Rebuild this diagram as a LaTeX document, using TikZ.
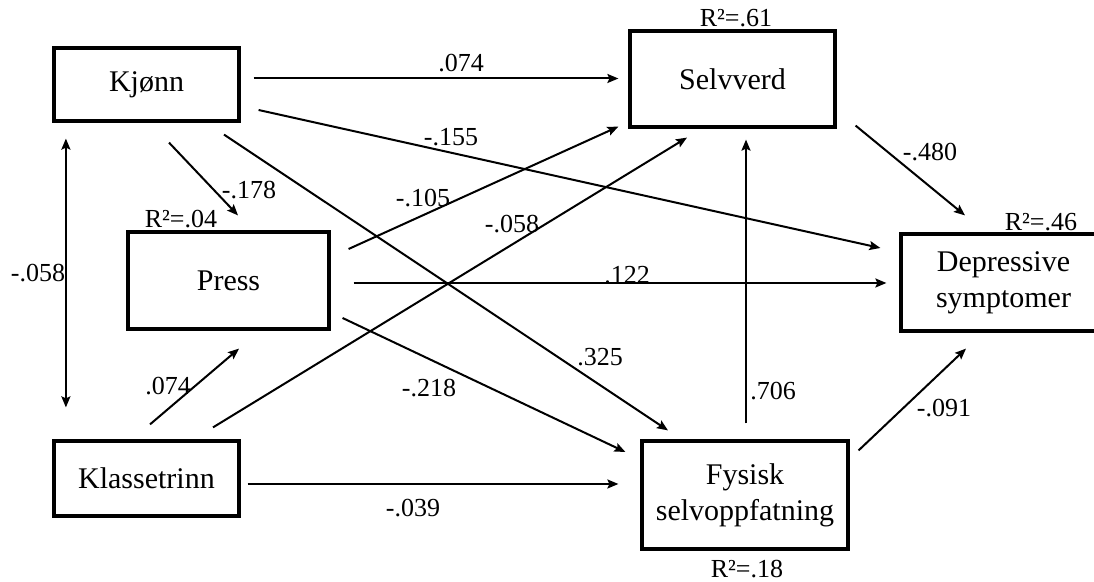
\documentclass[tikz,border=0pt]{standalone}
\usepackage{fontspec}
\setmainfont{Liberation Serif}
\usetikzlibrary{calc,arrows.meta}
\tikzset{
	var/.style={draw, line width=1.6pt, align=center, inner sep=0pt,
		font=\fontsize{15}{18}\selectfont},
	coef/.style={inner sep=0pt, font=\fontsize{13}{15}\selectfont},
	effect/.style={line width=1pt, -{Stealth[length=5.5pt,width=4.5pt,inset=1pt]}},
	corr/.style={line width=1pt, {Stealth[length=5.5pt,width=4.5pt,inset=1pt]}-{Stealth[length=5.5pt,width=4.5pt,inset=1pt]}}
}

\begin{document}
\begin{tikzpicture}[x=0.5pt,y=-0.5pt]
		%%%%% START %%%%%
		\clip (0,0) rectangle (1094,582);
		
		\node[var, minimum width=92.5pt, minimum height=36.5pt] (kjonn) at (146.5,84.5) {Kjønn};
		\node[var, minimum width=100.5pt, minimum height=48.5pt] (press) at (228.5,280.5) {Press};
		\node[var, minimum width=92.5pt, minimum height=37.5pt] (klasse) at (146.5,478.5) {Klassetrinn};
		\node[var, minimum width=102.5pt, minimum height=48pt] (selvverd) at (732.5,79) {Selvverd};
		\node[var, minimum width=102.5pt, minimum height=48.5pt] (depr) at (1003.5,282.5) {Depressive\\symptomer};
		\node[var, minimum width=103pt, minimum height=54pt] (fysisk) at (745,495) {Fysisk\\selvoppfatning};
		
		\node[coef] (r2press) at (181,219) {R²=.04};
		\node[coef] (r2selvverd) at (736,18) {R²=.61};
		\node[coef] (r2depr) at (1041,222) {R²=.46};
		\node[coef] (r2fysisk) at (747,569) {R²=.18};
		
		% from Kjonn
		\draw[effect] ($(kjonn.east)+(13,-6)$) -- ($(selvverd.west)+(-10,-0.5)$);
		\draw[effect] ($(kjonn.east)+(18,25.5)$) -- ($(depr.west)+(-19,-34.5)$);
		\draw[effect] ($(kjonn.south)+(22.5,20)$) -- ($(press.north)+(9.5,-15)$);
		\draw[effect] ($(kjonn.south)+(77.5,12)$) -- ($(fysisk.north)+(-77,-9)$);
		
		% from Press
		\draw[effect] ($(press.east)+(18,-31.5)$) -- ($(selvverd.south west)+(-10,-2)$);
		\draw[effect] ($(press.east)+(23,2.5)$) -- ($(depr.west)+(-13,0.5)$);
		\draw[effect] ($(press.east)+(12,37.5)$) -- ($(fysisk.west)+(-15,-43)$);
		
		% from Klassetrinn
		\draw[effect] ($(klasse.north)+(66.5,-12)$) -- ($(selvverd.south)+(-45.5,9)$);
		\draw[effect] ($(klasse.north)+(3.5,-15)$) -- ($(press.south)+(10.5,18)$);
		\draw[effect] ($(klasse.east)+(7,5.5)$) -- ($(fysisk.west)+(-22,-11)$);
		\draw[corr] ($(kjonn.south west)+(13.5,16)$) -- ($(klasse.north west)+(13.5,-32)$);
		
		% mediators
		\draw[effect] ($(fysisk.north)+(1,-16)$) -- ($(selvverd.south)+(13.5,11)$);
		\draw[effect] ($(selvverd.south east)+(19,-3)$) -- ($(depr.north)+(-38.5,-17)$);
		\draw[effect] ($(fysisk.north east)+(9,11)$) -- ($(depr.south)+(-37.5,16)$);
		
		\node[coef] (b1) at (461,63) {.074};
		\node[coef] (b2) at (451,137) {-.155};
		\node[coef] (b3) at (249,190) {-.178};
		\node[coef] (b4) at (600,357) {.325};
		\node[coef] (b5) at (423,198) {-.105};
		\node[coef] (b6) at (627,275) {.122};
		\node[coef] (b7) at (429,388) {-.218};
		\node[coef] (b8) at (512,224) {-.058};
		\node[coef] (b9) at (168,386) {.074};
		\node[coef] (b10) at (413,508) {-.039};
		\node[coef] (b11) at (38,273) {-.058};
		\node[coef] (b12) at (773,391) {.706};
		\node[coef] (b13) at (930,152) {-.480};
		\node[coef] (b14) at (944,408) {-.091};
		
		%%%%% END %%%%%
\end{tikzpicture}
\end{document}
